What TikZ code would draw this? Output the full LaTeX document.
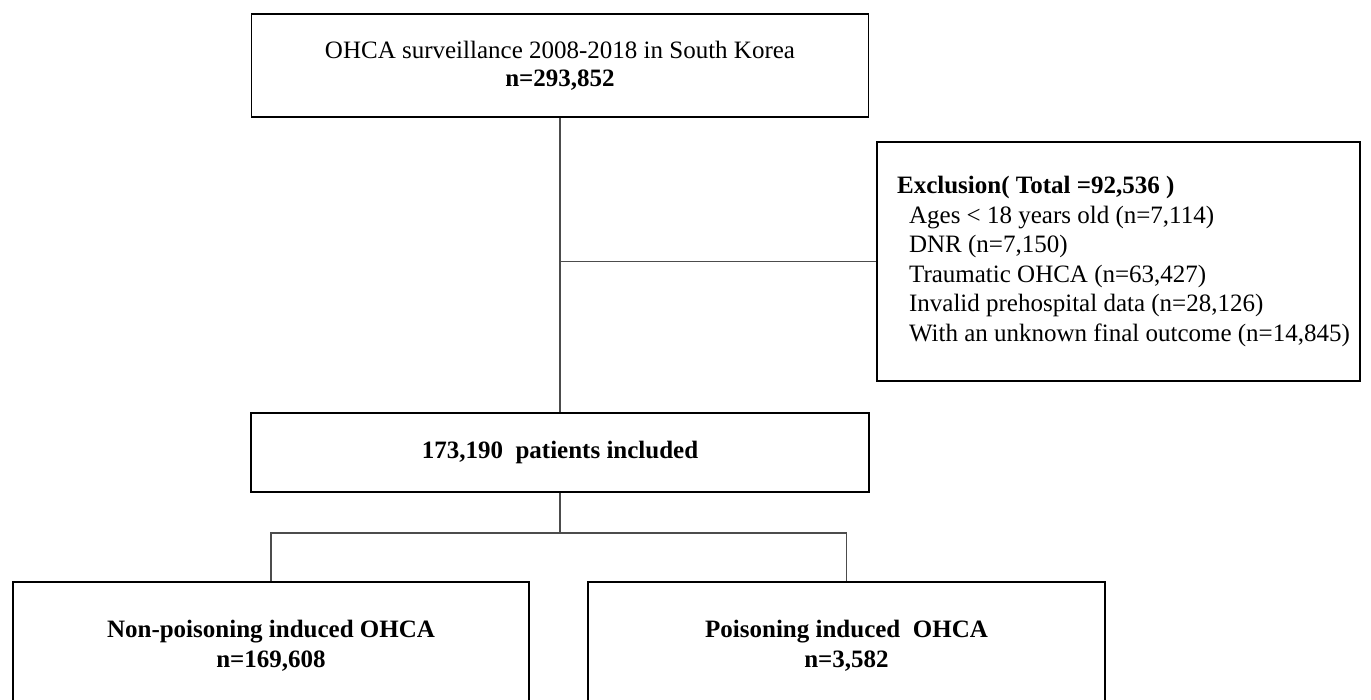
\documentclass[tikz,border=0pt]{standalone}
\usepackage{fontspec}
\setmainfont{Liberation Serif}
\usetikzlibrary{positioning}
\tikzset{box/.style={draw=black, line width=1.8pt, inner sep=0pt, align=center,
                     font=\fontsize{25}{30}\selectfont},
         link/.style={draw=black!70, line width=1.3pt}}

\begin{document}
\begin{tikzpicture}[x=1pt,y=-1pt]
  \clip (0,0) rectangle (1371,699);
  % boxes
  \node[box, minimum width=617pt, minimum height=103pt] (surv) at (560,65.5)
    {OHCA surveillance 2008-2018 in South Korea\\[-2pt] \textbf{n=293,852}};
  \node[box, minimum width=483pt, minimum height=239pt, align=left,
        font=\fontsize{25}{29.6}\selectfont] (excl) at (1118.5,261.5)
    {\hspace*{10pt}\textbf{Exclusion( Total =92,536 )}\\
     \hspace*{22pt}Ages < 18 years old (n=7,114)\\
     \hspace*{22pt}DNR (n=7,150)\\
     \hspace*{22pt}Traumatic OHCA (n=63,427)\\
     \hspace*{22pt}Invalid prehospital data (n=28,126)\\
     \hspace*{22pt}With an unknown final outcome (n=14,845)};
  \node[box, minimum width=618pt, minimum height=79pt] (incl) at (560,452.5)
    {\textbf{173,190\ \ patients included}};
  \node[box, minimum width=516pt, minimum height=128pt] (nonpois) at (271,646)
    {\textbf{Non-poisoning induced OHCA}\\ \textbf{n=169,608}};
  \node[box, minimum width=517pt, minimum height=128pt] (pois) at (846.5,646)
    {\textbf{Poisoning induced\ \ OHCA}\\ \textbf{n=3,582}};
  % connectors
  \coordinate (fork) at (560,533);
  \draw[link] (surv.south) -- (incl.north);
  \draw[link] (surv.south |- excl.west) -- (excl.west);
  \draw[link] (incl.south) -- (fork);
  \draw[link] (nonpois.north) |- (fork) -| (pois.north);
\end{tikzpicture}
\end{document}
